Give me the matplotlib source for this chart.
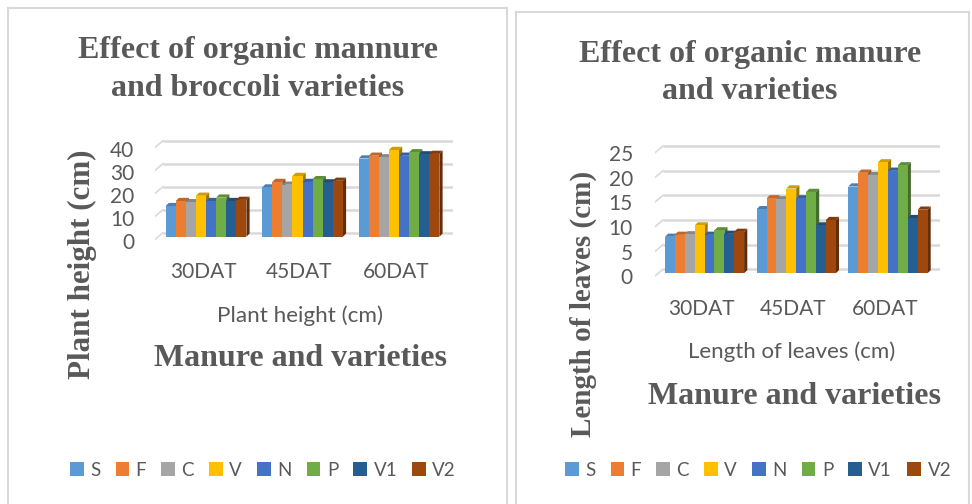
import matplotlib
matplotlib.use('Agg')
import matplotlib.pyplot as plt
from matplotlib.patches import Polygon, Patch
from matplotlib.lines import Line2D
from matplotlib.transforms import Affine2D, ScaledTranslation
from matplotlib.colors import to_rgb

W, H = 972, 504

fechas = ['30DAT', '45DAT', '60DAT']
tratamientos = ['S', 'F', 'C', 'V', 'N', 'P', 'V1', 'V2']
colores = ['#5B9BD5', '#ED7D31', '#A5A5A5', '#FFC000', '#4472C4', '#70AD47', '#255E91', '#9E480E']

# altura de planta (cm)
altura_30 = [13.3, 15.5, 15.0, 17.8, 15.5, 17.0, 15.5, 16.0]
altura_45 = [21.4, 23.8, 22.6, 26.4, 23.8, 25.0, 23.6, 24.3]
altura_60 = [34.0, 35.2, 34.5, 37.7, 35.2, 36.7, 35.8, 36.0]
ticks_altura = [0, 10, 20, 30, 40]

# largo de hojas (cm)
hojas_30 = [7.4, 7.8, 7.9, 9.7, 7.8, 8.7, 8.0, 8.4]
hojas_45 = [13.0, 15.2, 15.0, 17.2, 15.2, 16.5, 9.7, 10.8]
hojas_60 = [17.6, 20.4, 19.9, 22.5, 20.8, 21.9, 11.2, 12.9]
ticks_hojas = [0, 5, 10, 15, 20, 25]

GRIS = '#595959'
SERIF = 'Liberation Serif'
SANS = 'Lato'

fig = plt.figure(figsize=(W / 100, H / 100), dpi=100, facecolor='white')
# transform en pixeles, con y hacia abajo
px = Affine2D().scale(1, -1).translate(0, H)


def oscurecer(color, f):
    return tuple(c * f for c in to_rgb(color))


def texto(x, y, s, size, bold=False, family=SERIF, rotation=0, interlinea=1.15):
    fig.text(x, y, s, transform=px, fontsize=size, color=GRIS, family=family,
             fontweight='bold' if bold else 'normal', ha='center', va='center',
             rotation=rotation, linespacing=interlinea, multialignment='center')


def grafico(grupos, ticks, x0, x1, centro, paso, ancho, y_base, px_unidad, pad_y, baja_y):
    # x0, x1 extremos del area en pixeles, y_base pixel del cero
    y_top = y_base - px_unidad * ticks[-1]
    ax = fig.add_axes([x0 / W, 1 - y_base / H - 10 / H, (x1 - x0) / W, (y_base - y_top + 20) / H])
    ax.set_xlim((x0 - centro) / paso, (x1 - centro) / paso)
    ax.set_ylim(-10 / px_unidad, ticks[-1] + 10 / px_unidad)
    ax.patch.set_alpha(0)
    for s in ax.spines.values():
        s.set_visible(False)

    # paredes: lineas al fondo y diagonales al frente
    x_frente = (x0 - centro) / paso
    x_fondo = (x0 + 8 - centro) / paso
    x_fin = (x1 - centro) / paso
    dy_f = 4 / px_unidad
    for t in ticks:
        ax.plot([x_fondo, x_fin], [t + dy_f, t + dy_f], color='#D9D9D9', lw=1.8, zorder=1,
                solid_capstyle='butt')
        ax.plot([x_frente, x_fondo], [t - 2.7 / px_unidad, t + dy_f], color='#D9D9D9', lw=1.2, zorder=1)

    w = ancho / paso
    dx, dy = 3.2 / paso, 3.2 / px_unidad
    z = 3
    for g, valores in enumerate(grupos):
        for i, v in enumerate(valores):
            xi = g + (i - 3.5) * w
            b = ax.bar(xi, v, width=w, color=colores[i], linewidth=0, zorder=z + 1)[0]
            xa, xb = b.get_x(), b.get_x() + w
            # cara superior y lateral
            ax.add_patch(Polygon([(xa, v), (xb, v), (xb + dx, v + dy), (xa + dx, v + dy)],
                                 fc=oscurecer(colores[i], 0.82), ec='none', zorder=z))
            ax.add_patch(Polygon([(xb, 0), (xb + dx, dy), (xb + dx, v + dy), (xb, v)],
                                 fc=oscurecer(colores[i], 0.62), ec='none', zorder=z))
            z += 2

    ax.set_xticks(range(len(fechas)))
    ax.set_xticklabels(fechas, fontsize=15, color=GRIS, family=SANS)
    ax.set_yticks(ticks)
    ax.set_yticklabels([str(t) for t in ticks], fontsize=15, color=GRIS, family=SANS)
    ax.tick_params(length=0, axis='y', pad=pad_y)
    ax.tick_params(length=0, axis='x', pad=11)
    baja = ScaledTranslation(0, -baja_y / 100, fig.dpi_scale_trans)
    izq = ScaledTranslation(-3 / 100, 0, fig.dpi_scale_trans)
    for lab in ax.get_yticklabels():
        lab.set_transform(lab.get_transform() + baja)
    for lab in ax.get_xticklabels():
        lab.set_transform(lab.get_transform() + izq)
    return ax


def leyenda(x, y):
    handles = [Patch(fc=c, ec='none') for c in colores]
    fig.legend(handles, tratamientos, loc='center left', bbox_to_anchor=(x, y), bbox_transform=px,
               ncol=8, frameon=False, handlelength=0.72, handleheight=0.78, handletextpad=0.35,
               columnspacing=0.81, borderpad=0, borderaxespad=0,
               prop={'family': SANS, 'size': 13.5}, labelcolor=GRIS)


# bordes
for xs, ys in [([8, 8], [8, H]), ([8, 507], [8, 8]), ([507, 507], [8, H]),
               ([516, 516], [12, H]), ([516, 969], [12, 12]), ([969, 969], [12, H])]:
    fig.add_artist(Line2D(xs, ys, transform=px, color='#D9D9D9', lw=1.5))

grafico([altura_30, altura_45, altura_60], ticks_altura, 155, 453, 206, 96.5, 10.1, 236.7, 2.3, 15, 4)
grafico([hojas_30, hojas_45, hojas_60], ticks_hojas, 655, 940, 704.5, 91.7, 9.9, 273.3, 4.93, 16, 3)

texto(258, 69.5, 'Effect of organic mannure\nand broccoli varieties', 23, bold=True, interlinea=1.44)
texto(750, 73, 'Effect of organic manure\nand varieties', 23, bold=True, interlinea=1.33)
texto(82, 264, 'Plant height (cm)', 22.3, bold=True, rotation=90)
texto(583, 304, 'Length of leaves (cm)', 21, bold=True, rotation=90)
texto(300, 316, 'Plant height (cm)', 16.2, family=SANS)
texto(792, 352, 'Length of leaves (cm)', 16, family=SANS)
texto(300, 358, 'Manure and varieties', 23, bold=True)
texto(795, 396, 'Manure and varieties', 23, bold=True)

leyenda(70, 470)
leyenda(565, 470)

fig.savefig('out.png', dpi=100)
